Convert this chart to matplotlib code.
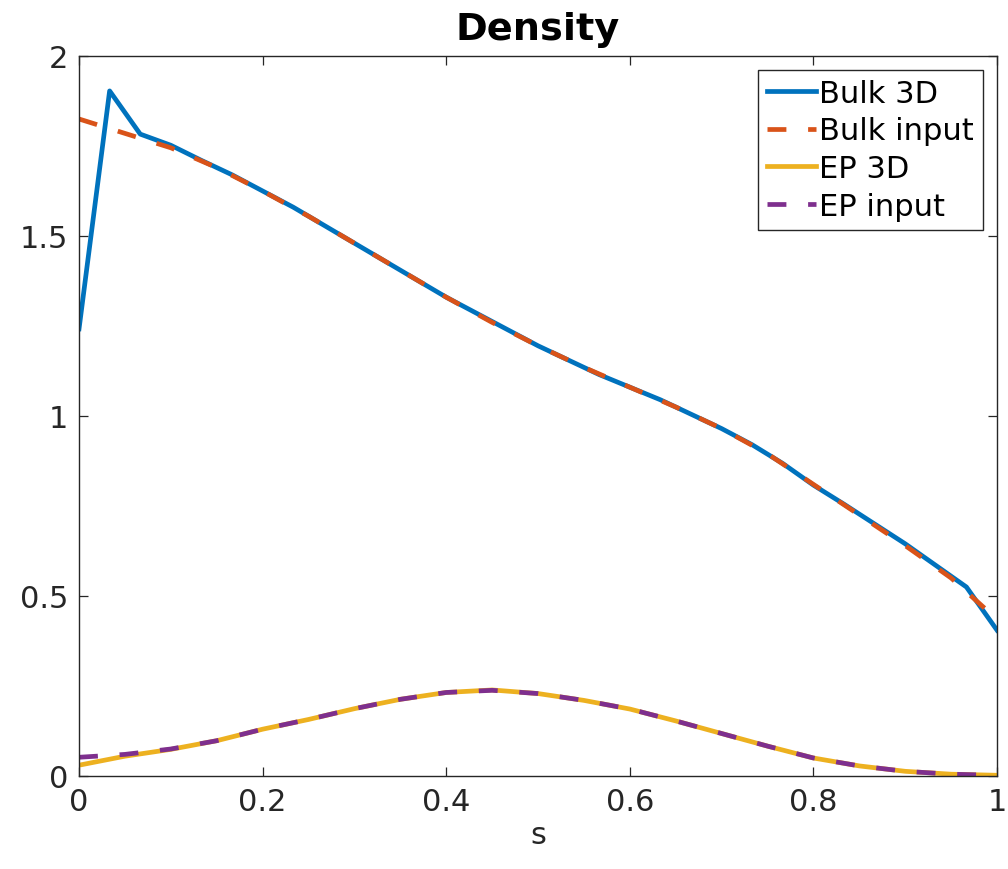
import matplotlib
matplotlib.use("Agg")
import matplotlib.pyplot as plt

# Bulk 3D (sampled at k/30)
s_bulk3d = [k / 30 for k in range(31)]
bulk_3d = [1.242, 1.903, 1.783, 1.752, 1.71, 1.67, 1.625, 1.58, 1.53, 1.48,
           1.43, 1.38, 1.33, 1.285, 1.24, 1.195, 1.155, 1.115, 1.08, 1.045,
           1.005, 0.965, 0.92, 0.868, 0.808, 0.755, 0.70, 0.645, 0.585, 0.525,
           0.405]

# inputs / EP 3D sampled every 0.05
s_grid = [k * 0.05 for k in range(21)]
bulk_input = [1.825, 1.785, 1.745, 1.69, 1.625, 1.555, 1.48, 1.405, 1.33, 1.26,
              1.195, 1.135, 1.08, 1.025, 0.965, 0.895, 0.81, 0.725, 0.64, 0.55,
              0.435]
ep_3d = [0.03, 0.055, 0.074, 0.098, 0.13, 0.157, 0.187, 0.213, 0.232, 0.239,
         0.229, 0.21, 0.186, 0.153, 0.118, 0.083, 0.05, 0.028, 0.013, 0.005,
         0.002]
ep_input = [0.052, 0.06, 0.075, 0.098, 0.13, 0.157, 0.187, 0.213, 0.232, 0.238,
            0.229, 0.21, 0.186, 0.153, 0.118, 0.083, 0.05, 0.028, 0.013, 0.005,
            0.002]

labels = ["Bulk 3D", "Bulk input", "EP 3D", "EP input"]
colors = ["#0072BD", "#D95319", "#EDB120", "#7E2F8E"]
xticks = [0, 0.2, 0.4, 0.6, 0.8, 1]
xticklabels = ["0", "0.2", "0.4", "0.6", "0.8", "1"]
yticks = [0, 0.5, 1, 1.5, 2]
yticklabels = ["0", "0.5", "1", "1.5", "2"]

plt.rcParams['font.family'] = ['DejaVu Sans']
fig = plt.figure(figsize=(10.08, 8.7), dpi=100)
ax = fig.add_axes([0.0784, 0.1069, 0.9107, 0.8276])

lw = 3.4
dash = (4.0, 4.6)
ax.plot(s_bulk3d, bulk_3d, color=colors[0], lw=lw, label=labels[0])
ax.plot(s_grid, bulk_input, color=colors[1], lw=lw, dashes=dash, label=labels[1])
ax.plot(s_grid, ep_3d, color=colors[2], lw=lw, label=labels[2])
ax.plot(s_grid, ep_input, color=colors[3], lw=lw, dashes=dash, label=labels[3])

ax.set_xlim(0, 1)
ax.set_ylim(0, 2)
ax.set_xticks(xticks)
ax.set_xticklabels(xticklabels)
ax.set_yticks(yticks)
ax.set_yticklabels(yticklabels)

gray = "#262626"
for sp in ax.spines.values():
    sp.set_color(gray)
    sp.set_linewidth(1.0)
ax.tick_params(direction='in', top=True, right=True, length=6.5, width=0.9,
               colors=gray, labelsize=22, pad=8)

ax.set_title("Density", fontsize=27.5, fontweight='bold', pad=12)
ax.set_xlabel("s", fontsize=22, color=gray, labelpad=3)

leg = ax.legend(loc='upper right', fontsize=22, frameon=True, fancybox=False,
                framealpha=1, edgecolor=gray, handlelength=1.6,
                handletextpad=0.12, borderpad=0.3, labelspacing=0.28,
                borderaxespad=0.45)
leg.get_frame().set_linewidth(1.0)

fig.savefig("out.png", dpi=100)
